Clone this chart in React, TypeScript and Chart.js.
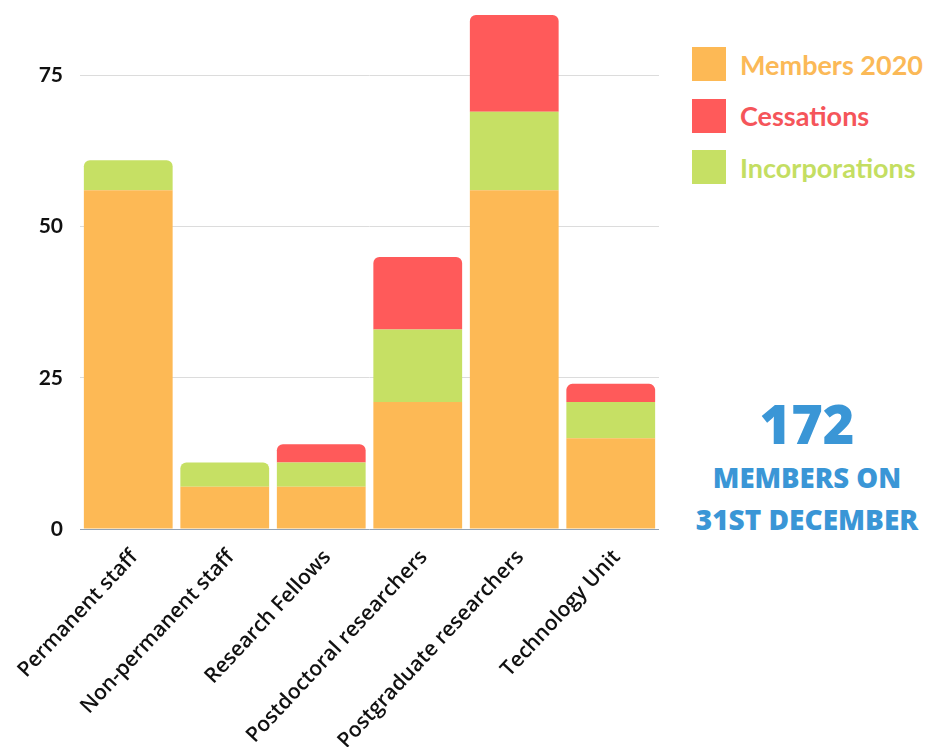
import React, { useEffect, useRef } from "react";
import { Chart, registerables } from "chart.js";

Chart.register(...registerables);

const categories = [
  "Permanent staff",
  "Non-permanent staff",
  "Research Fellows",
  "Postdoctoral researchers",
  "Postgraduate researchers",
  "Technology Unit",
];
const members2020 = [56, 7, 7, 21, 56, 15];
const incorporations = [5, 4, 4, 12, 13, 6];
const cessations = [0, 0, 3, 12, 16, 3];
const yTicks = [0, 25, 50, 75];
const totalMembers = "172";

const ORANGE = "#FDB955";
const RED = "#FF5A5A";
const GREEN = "#C6E064";

const legendItems = [
  { label: "Members 2020", color: ORANGE, text: "#FBB957" },
  { label: "Cessations", color: RED, text: "#F5555A" },
  { label: "Incorporations", color: GREEN, text: "#C4DE62" },
];

export default function App() {
  const ref = useRef<HTMLCanvasElement | null>(null);
  useEffect(() => {
    const ctx = ref.current!;
    const chart = new Chart(ctx, {
      type: "bar",
      data: {
        labels: categories,
        datasets: [
          { label: "Members 2020", data: members2020, backgroundColor: ORANGE },
          { label: "Incorporations", data: incorporations, backgroundColor: GREEN },
          { label: "Cessations", data: cessations, backgroundColor: RED },
        ].map((d) => ({
          ...d,
          borderRadius: 6,
          borderSkipped: "start" as const,
          barPercentage: 0.92,
          categoryPercentage: 1,
        })),
      },
      options: {
        animation: false,
        responsive: false,
        maintainAspectRatio: false,
        layout: { padding: { top: 15, right: 11, left: 0, bottom: 0 } },
        plugins: { legend: { display: false }, tooltip: { enabled: false } },
        scales: {
          x: {
            stacked: true,
            grid: { display: false, drawTicks: false },
            border: { display: false },
            ticks: {
              minRotation: 47,
              maxRotation: 47,
              padding: 16,
              labelOffset: 6,
              color: "#111",
              font: { family: "'Open Sans'", size: 21, weight: "600" },
            },
            afterFit: (s: any) => {
              s.height = 218;
              s.paddingLeft = 0;
              s.paddingRight = 0;
            },
          },
          y: {
            stacked: true,
            min: 0,
            max: 85,
            grid: {
              drawTicks: false,
              color: (c: any) => (c.tick && c.tick.value === 0 ? "#93a3b5" : "#dcdcdc"),
              lineWidth: 1,
            },
            border: { display: false },
            ticks: {
              stepSize: 25,
              padding: 17,
              color: "#111",
              font: { family: "Lato", size: 21, weight: "bold" },
            },
            afterBuildTicks: (s: any) => {
              s.ticks = yTicks.map((v) => ({ value: v }));
            },
            afterFit: (s: any) => {
              s.width = 80;
              s.paddingTop = 0;
              s.paddingBottom = 0;
            },
          },
        },
      },
    });
    return () => chart.destroy();
  }, []);

  return (
    <div
      style={{
        position: "absolute",
        left: 0,
        top: 0,
        width: 927,
        height: 747,
        background: "#fff",
        overflow: "hidden",
      }}
    >
      <canvas ref={ref} width={670} height={747} style={{ position: "absolute", left: 0, top: 0 }} />
      {legendItems.map((it, i) => (
        <div
          key={it.label}
          style={{
            position: "absolute",
            left: 692,
            top: 47 + i * 51.5,
            height: 34,
            display: "flex",
            alignItems: "center",
          }}
        >
          <div style={{ width: 34, height: 34, background: it.color }} />
          <span
            style={{
              marginLeft: 14,
              fontFamily: "Lato",
              fontWeight: 700,
              fontSize: 27,
              color: it.text,
              whiteSpace: "nowrap",
            }}
          >
            {it.label}
          </span>
        </div>
      ))}
      <div
        style={{
          position: "absolute",
          left: 682,
          width: 250,
          top: 388,
          textAlign: "center",
          color: "#3A96D6",
          fontFamily: "'Open Sans'",
          fontWeight: 800,
        }}
      >
        <div style={{ fontSize: 54, lineHeight: "70px" }}>{totalMembers}</div>
        <div style={{ fontSize: 27.5, lineHeight: "40px" }}>MEMBERS ON</div>
        <div style={{ fontSize: 28, lineHeight: "42px" }}>31ST DECEMBER</div>
      </div>
    </div>
  );
}
